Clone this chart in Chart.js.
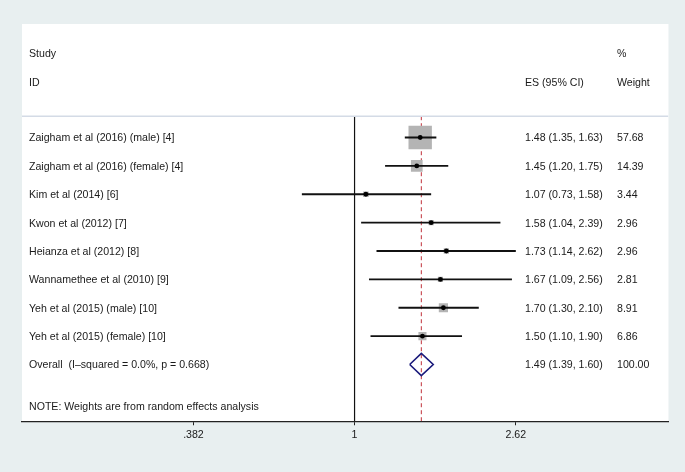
<!DOCTYPE html>
<html>
<head>
<meta charset="utf-8">
<script src="https://cdn.jsdelivr.net/npm/chart.js@4.4.1/dist/chart.umd.min.js"></script>
<style>
  html, body { margin: 0; padding: 0; background: #e8eff0; }
  canvas { display: block; }
</style>
</head>
<body>
<canvas id="c" width="685" height="472"></canvas>
<script>
// Forest plot: study estimates (ES, 95% CI) and random-effects weights
const studies = [
  'Zaigham et al (2016) (male) [4]',
  'Zaigham et al (2016) (female) [4]',
  'Kim et al (2014) [6]',
  'Kwon et al (2012) [7]',
  'Heianza et al (2012) [8]',
  'Wannamethee et al (2010) [9]',
  'Yeh et al (2015) (male) [10]',
  'Yeh et al (2015) (female) [10]'
];
const es      = [1.48, 1.45, 1.07, 1.58, 1.73, 1.67, 1.70, 1.50];
const ciLow   = [1.35, 1.20, 0.73, 1.04, 1.14, 1.09, 1.30, 1.10];
const ciHigh  = [1.63, 1.75, 1.58, 2.39, 2.62, 2.56, 2.10, 1.90];
const weights = [57.68, 14.39, 3.44, 2.96, 2.96, 2.81, 8.91, 6.86];

const overallLabel  = 'Overall  (I\u2013squared = 0.0%, p = 0.668)';
const overallES     = 1.49;
const overallLow    = 1.39;
const overallHigh   = 1.60;
const overallWeight = 100.00;

const tickValues = [0.382, 1, 2.62];
const tickLabels = ['.382', '1', '2.62'];

const noteText = 'NOTE: Weights are from random effects analysis';

// layout in row units (y) and log-scale extent (x)
const X_MIN = 0.1372, X_MAX = 6.52;
const Y_MIN = -4, Y_MAX = 10;
const ROW_STUDY = -2.95, ROW_ID = -1.92, ROW_SEP = -0.75, ROW_NOTE = 9.5;
const OVERALL_ROW = studies.length;
const FONT = '10.6px "Liberation Sans", Arial, sans-serif';
const TEXT = '#1a1a1a';
const BOX_PX_PER_SQRT_W = 3.08;
const DIAMOND_HALF = 0.39;

const fmt = v => v.toFixed(2);
const esText = (e, l, h) => `${fmt(e)} (${fmt(l)}, ${fmt(h)})`;

const ciSets = studies.map((s, i) => ({
  type: 'scatter', showLine: true, order: 3,
  data: [{ x: ciLow[i], y: i }, { x: ciHigh[i], y: i }],
  borderColor: '#111', borderWidth: 1.8, pointRadius: 0
}));

const panelPlugin = {
  id: 'panel',
  beforeDraw(chart) {
    const { ctx, chartArea: a } = chart;
    ctx.save();
    ctx.fillStyle = '#ffffff';
    ctx.fillRect(a.left, a.top, a.right - a.left, a.bottom - a.top);
    ctx.restore();
  },
  afterDraw(chart) {
    const { ctx } = chart;
    const y = chart.scales.y;
    const colL = 29, colES = 525, colW = 617;
    ctx.save();
    ctx.font = FONT;
    ctx.fillStyle = TEXT;
    ctx.textBaseline = 'middle';
    ctx.textAlign = 'left';
    ctx.fillText('Study', colL, y.getPixelForValue(ROW_STUDY));
    ctx.fillText('ID', colL, y.getPixelForValue(ROW_ID));
    ctx.fillText('ES (95% CI)', colES, y.getPixelForValue(ROW_ID));
    ctx.fillText('%', colW, y.getPixelForValue(ROW_STUDY));
    ctx.fillText('Weight', colW, y.getPixelForValue(ROW_ID));
    studies.forEach((s, i) => {
      const py = y.getPixelForValue(i) + 1;
      ctx.fillText(s, colL, py);
      ctx.fillText(esText(es[i], ciLow[i], ciHigh[i]), colES, py);
      ctx.fillText(fmt(weights[i]), colW, py);
    });
    const po = y.getPixelForValue(OVERALL_ROW) + 1;
    ctx.fillText(overallLabel, colL, po);
    ctx.fillText(esText(overallES, overallLow, overallHigh), colES, po);
    ctx.fillText(fmt(overallWeight), colW, po);
    ctx.fillText(noteText, colL, y.getPixelForValue(ROW_NOTE));
    ctx.restore();
  }
};

new Chart(document.getElementById('c'), {
  type: 'scatter',
  data: {
    datasets: [
      // separator under the header
      { showLine: true, order: 6, data: [{ x: X_MIN, y: ROW_SEP }, { x: X_MAX, y: ROW_SEP }],
        borderColor: '#d4dbe6', borderWidth: 1.5, pointRadius: 0 },
      // null line
      { showLine: true, order: 6, data: [{ x: 1, y: ROW_SEP }, { x: 1, y: Y_MAX }],
        borderColor: '#111', borderWidth: 1.2, pointRadius: 0 },
      // overall effect line
      { showLine: true, order: 6, data: [{ x: overallES, y: ROW_SEP }, { x: overallES, y: Y_MAX }],
        borderColor: '#c0303a', borderWidth: 1, borderDash: [4, 3], pointRadius: 0 },
      // weight boxes
      { order: 4, data: es.map((v, i) => ({ x: v, y: i })), pointStyle: 'rect',
        pointRadius: weights.map(w => Math.sqrt(w) * BOX_PX_PER_SQRT_W / Math.SQRT2),
        backgroundColor: '#b4b4b4', borderWidth: 0 },
      ...ciSets,
      // point estimates
      { order: 1, data: es.map((v, i) => ({ x: v, y: i })), pointStyle: 'circle',
        pointRadius: 2.4, backgroundColor: '#000', borderWidth: 0 },
      // overall diamond
      { showLine: true, order: 2, pointRadius: 0, borderColor: '#1b1b7c', borderWidth: 1.6,
        data: [
          { x: overallLow, y: OVERALL_ROW },
          { x: overallES, y: OVERALL_ROW - DIAMOND_HALF },
          { x: overallHigh, y: OVERALL_ROW },
          { x: overallES, y: OVERALL_ROW + DIAMOND_HALF },
          { x: overallLow, y: OVERALL_ROW }
        ] }
    ]
  },
  options: {
    responsive: false,
    animation: false,
    devicePixelRatio: 1,
    layout: { padding: { left: 22, right: 15, top: 24, bottom: 28 } },
    plugins: { legend: { display: false }, tooltip: { enabled: false } },
    scales: {
      x: {
        type: 'logarithmic',
        min: X_MIN, max: X_MAX,
        afterBuildTicks: s => { s.ticks = tickValues.map(v => ({ value: v })); },
        ticks: {
          callback: (v, i) => tickLabels[i],
          color: TEXT, padding: 3, maxRotation: 0, autoSkip: false,
          font: { family: '"Liberation Sans", Arial, sans-serif', size: 10.6 }
        },
        grid: { drawOnChartArea: false, drawTicks: true, tickLength: 4, color: '#222' },
        border: { display: true, color: '#222', width: 1.2 }
      },
      y: {
        type: 'linear', reverse: true, min: Y_MIN, max: Y_MAX, display: false
      }
    }
  },
  plugins: [panelPlugin]
});
</script>
</body>
</html>
